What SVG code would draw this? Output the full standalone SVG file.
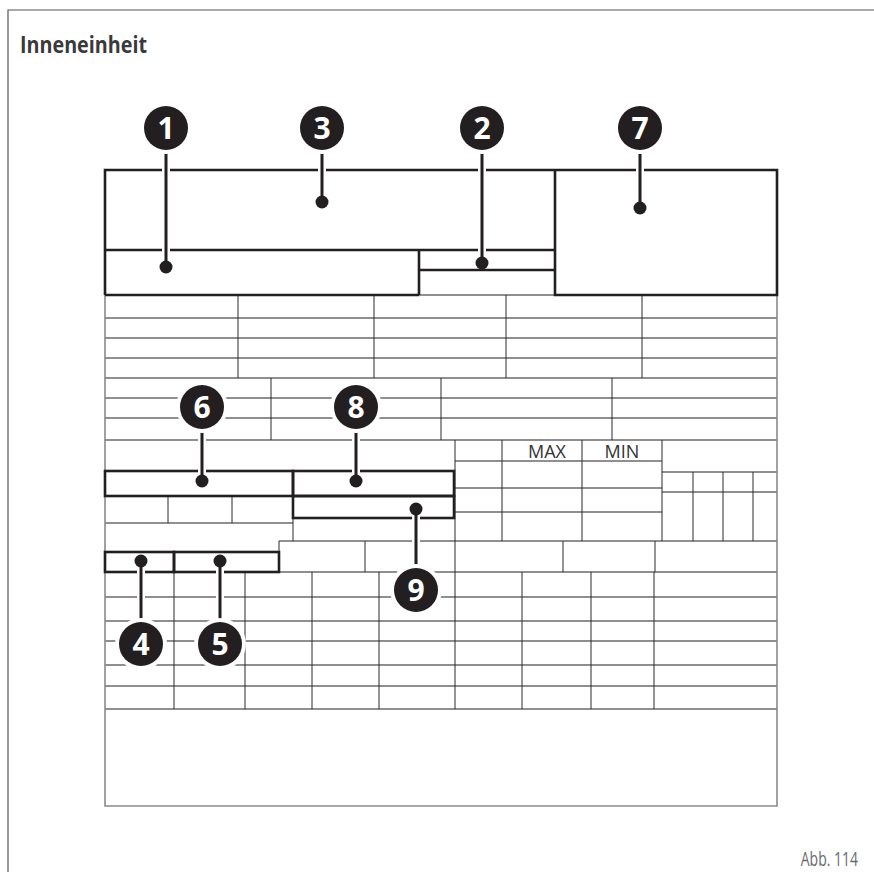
<svg xmlns="http://www.w3.org/2000/svg" width="874" height="882" viewBox="0 0 874 882">
<style>
.h{stroke:#6b6b6b;stroke-width:1.3;fill:none}
.v{stroke:#2a2a2a;stroke-width:1;fill:none}
.e{stroke:#8a8a8a;stroke-width:1.6;fill:none}
.k{stroke:#231f20;stroke-width:2.6;fill:none}
.halo{stroke:#fff;stroke-width:8;fill:none}
.lead{stroke:#231f20;stroke-width:3;fill:none}
.ring{fill:#fff}
.disc{fill:#231f20}
.num{fill:#fff;font-family:"Open Sans","DejaVu Sans",sans-serif;font-weight:700;font-size:30px;text-anchor:middle}
.dot{fill:#231f20}
.lbl{fill:#333;font-family:"Open Sans","Liberation Sans",sans-serif;font-size:18px;text-anchor:middle}
</style>
<rect width="874" height="882" fill="#fff"/>
<path d="M874,10 H8 V872" stroke="#555" stroke-width="1.2" fill="none"/>
<text x="20" y="53" font-family="Open Sans, DejaVu Sans, sans-serif" font-weight="700" font-size="23" fill="#3a3a3a" textLength="127" lengthAdjust="spacingAndGlyphs">Inneneinheit</text>
<text transform="translate(858,866) scale(0.7,1)" text-anchor="end" font-family="Open Sans, Liberation Sans, sans-serif" font-size="20" fill="#6a6a6a">Abb. 114</text>

<g id="table">
<g class="h">
<path d="M105,318H777M105,338H777M105,358H777M105,378H777M419,295H555"/>
<path d="M105,398H777M105,418H777M105,440H777"/>
<path d="M455,461H662M455,488H662M455,512H662M662,472H777M662,492H777M105,523H293M279,541H777"/>
<path d="M279,572H777M105,597H777M105,621H777M105,641H777M105,665H777M105,686H777M105,709H777"/>
</g>
<g class="v">
<path d="M238,295V378M374,295V378M506,295V378M642,295V378"/>
<path d="M271,378V440M441,378V440M612,378V440"/>
<path d="M455,440V709M502,440V541M582,440V541M662,440V541M693,472V541M723,472V541M753,472V541"/>
<path d="M168,496V523M232,496V523M293,518V541M279,541V552M365,541V572M563,541V572M655,541V572"/>
<path d="M174,572V709M245,572V709M312,572V709M379,572V709M522,572V709M591,572V709M654,572V709"/>
</g>
<path class="e" d="M105,295V806H777V295"/>
<g class="k">
<path d="M105,295V170H777V295H555V170M105,250H555M419,295V250M419,270H555M105,295H419"/>
<rect x="105" y="471" width="188" height="25"/>
<rect x="293" y="471" width="161" height="25"/>
<rect x="293" y="496" width="161" height="22"/>
<rect x="105" y="552" width="69" height="20"/>
<rect x="174" y="552" width="105" height="20"/>
</g>
<text class="lbl" x="547" y="458">MAX</text>
<text class="lbl" x="622" y="458">MIN</text>
</g>

<g id="connectors">
<path class="halo" d="M166,152V267M322,152V202M482,152V263M640,152V208M202,431V481M356,431V481M416,509V566M141,561V620M220,561V620"/>
<path class="lead" d="M166,150V267M322,150V202M482,150V263M640,150V208M202,429V481M356,429V481M416,509V568M141,561V622M220,561V622"/>
<g class="dot">
<circle cx="166" cy="267" r="6.5"/><circle cx="322" cy="202" r="6.5"/><circle cx="482" cy="263" r="6.5"/><circle cx="640" cy="208" r="6.5"/>
<circle cx="202" cy="481" r="6.5"/><circle cx="356" cy="481" r="6.5"/><circle cx="416" cy="509" r="6.5"/><circle cx="141" cy="561" r="6.5"/><circle cx="220" cy="561" r="6.5"/>
</g>
</g>

<g id="badge1"><circle class="ring" cx="166" cy="128" r="26"/><circle class="disc" cx="166" cy="128" r="22"/><text class="num" x="166" y="139">1</text></g>
<g id="badge3"><circle class="ring" cx="322" cy="128" r="26"/><circle class="disc" cx="322" cy="128" r="22"/><text class="num" x="322" y="139">3</text></g>
<g id="badge2"><circle class="ring" cx="482" cy="128" r="26"/><circle class="disc" cx="482" cy="128" r="22"/><text class="num" x="482" y="139">2</text></g>
<g id="badge7"><circle class="ring" cx="640" cy="128" r="26"/><circle class="disc" cx="640" cy="128" r="22"/><text class="num" x="640" y="139">7</text></g>
<g id="badge6"><circle class="ring" cx="202" cy="407" r="26"/><circle class="disc" cx="202" cy="407" r="22"/><text class="num" x="202" y="418">6</text></g>
<g id="badge8"><circle class="ring" cx="356" cy="407" r="26"/><circle class="disc" cx="356" cy="407" r="22"/><text class="num" x="356" y="418">8</text></g>
<g id="badge9"><circle class="ring" cx="416" cy="590" r="26"/><circle class="disc" cx="416" cy="590" r="22"/><text class="num" x="416" y="601">9</text></g>
<g id="badge4"><circle class="ring" cx="141" cy="644" r="26"/><circle class="disc" cx="141" cy="644" r="22"/><text class="num" x="141" y="655">4</text></g>
<g id="badge5"><circle class="ring" cx="220" cy="644" r="26"/><circle class="disc" cx="220" cy="644" r="22"/><text class="num" x="220" y="655">5</text></g>
</svg>
